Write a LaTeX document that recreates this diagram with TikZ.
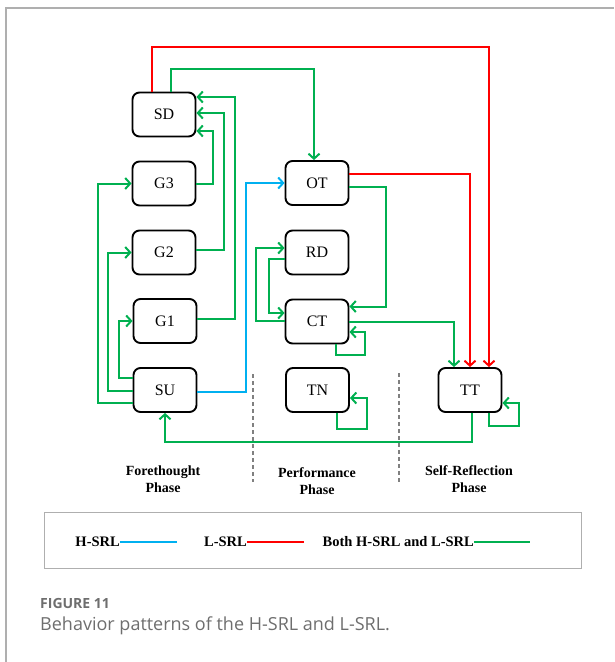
\documentclass[tikz,border=0pt]{standalone}
\usepackage{fontspec}
\setmainfont{Liberation Serif}
\newfontfamily\capfont{Open Sans}
\usetikzlibrary{arrows.meta}
\definecolor{lgreen}{RGB}{0,176,80}
\definecolor{lblue}{RGB}{0,176,240}
\definecolor{lred}{RGB}{255,0,0}
\definecolor{framegray}{RGB}{175,175,175}
\definecolor{capgray}{RGB}{110,110,110}
\begin{document}
\begin{tikzpicture}[x=1pt,y=-1pt,
  box/.style={draw=black,line width=1.9pt,rounded corners=7pt,minimum width=63pt,minimum height=44pt,inner sep=0pt,font=\fontsize{16}{19}\selectfont},
  conn/.style={line width=2pt,-{Straight Barb[length=5pt,width=11pt]}},
  gl/.style={conn,draw=lgreen},
  rl/.style={conn,draw=lred},
  bl/.style={conn,draw=lblue},
  phase/.style={align=center,font=\fontsize{14}{17}\selectfont\bfseries,inner sep=0pt},
  legtxt/.style={font=\fontsize{14.5}{17}\selectfont\bfseries,inner sep=0pt,anchor=east},
  sep/.style={draw=gray,line width=1.2pt,dash pattern=on 4pt off 3pt}
]
\useasboundingbox (0,0) rectangle (614,662);
% outer frame
\draw[framegray,line width=1.2pt] (6,662) -- (6,8) -- (614,8);

% nodes
\node[box] (SD) at (164,114.5) {SD};
\node[box] (G3) at (164,183.5) {G3};
\node[box] (G2) at (164,252.5) {G2};
\node[box] (G1) at (165,321) {G1};
\node[box] (SU) at (165,390) {SU};
\node[box] (OT) at (317,183) {OT};
\node[box] (RD) at (317,252.5) {RD};
\node[box] (CT) at (317,321.5) {CT};
\node[box] (TN) at (317.5,390) {TN};
\node[box] (TT) at (470,390) {TT};

% connectors
\draw[rl] ([xshift=-12pt]SD.north) -- ++(0,-45) -| ([xshift=19pt]TT.north);
\draw[gl] ([xshift=7pt]SD.north) -- ++(0,-23) -| ([xshift=-3pt]OT.north);
\draw[rl] ([yshift=9pt]OT.east) -| ([xshift=0pt]TT.north);
\draw[gl] ([yshift=-4pt]OT.east) -- ++(37,0) |- ([yshift=15pt]CT.east);
\draw[gl] (CT.east) -| ([xshift=-16pt]TT.north);
\draw[gl] ([xshift=19pt]CT.south) -- ++(0,11) -- ++(29,0) |- ([yshift=-10.5pt]CT.east);
\draw[gl] ([xshift=19pt]TN.south) -- ++(0,16) -- ++(30,0) |- ([yshift=-8pt]TN.east);
\draw[gl] ([xshift=19pt]TT.south) -- ++(0,13) -- ++(30,0) |- ([yshift=-13pt]TT.east);
\draw[gl] ([xshift=2pt]TT.south) -- ++(0,29) -| (SU.south);
\draw[bl] ([yshift=-2pt]SU.east) -- ++(49,0) |- (OT.west);
\draw[gl] ([yshift=-13pt]SU.west) -- ++(-35,0) |- (G3.west);
\draw[gl] ([yshift=-1pt]SU.west) -- ++(-25,0) |- (G2.west);
\draw[gl] ([yshift=12pt]SU.west) -- ++(-14,0) |- (G1.west);
\draw[gl] (G3.east) -- ++(17,0) |- ([yshift=-16.5pt]SD.east);
\draw[gl] ([yshift=3pt]G2.east) -- ++(28,0) |- ([yshift=1.5pt]SD.east);
\draw[gl] ([yshift=2pt]G1.east) -- ++(38,0) |- ([yshift=17.5pt]SD.east);
\draw[gl] ([yshift=-6.5pt]RD.west) -- ++(-16,0) |- ([yshift=8.5pt]CT.west);
\draw[gl] ([yshift=1pt]CT.west) -- ++(-29,0) |- ([yshift=4.5pt]RD.west);

% phase separators
\draw[sep] (253,374) -- (253,482);
\draw[sep] (399,373) -- (399,482);

% phase labels
\node[phase] (p1) at (163,479.5) {Forethought\\Phase};
\node[phase] (p2) at (317,481.5) {Performance\\Phase};
\node[phase] (p3) at (469,479.5) {Self-Reflection\\Phase};

% legend
\draw[framegray,line width=1pt] (44,512) rectangle (581,568);
\node[legtxt] (lh) at (120,542) {H-SRL};
\draw[lblue,line width=2pt] (lh.east) -- ++(57,0);
\node[legtxt] (ll) at (247,542) {L-SRL};
\draw[lred,line width=2pt] (ll.east) -- ++(57,0);
\node[legtxt] (lb) at (474,542) {Both H-SRL and L-SRL};
\draw[lgreen,line width=2pt] (lb.east) -- ++(56,0);

% caption
\node[anchor=west,inner sep=0pt,text=capgray,font=\capfont\fontsize{14}{17}\selectfont\bfseries] (cap1) at (40,603) {FIGURE 11};
\node[anchor=west,inner sep=0pt,text=capgray,font=\capfont\fontsize{18}{22}\selectfont] (cap2) at (40,626) {Behavior patterns of the H-SRL and L-SRL.};
\end{tikzpicture}
\end{document}
